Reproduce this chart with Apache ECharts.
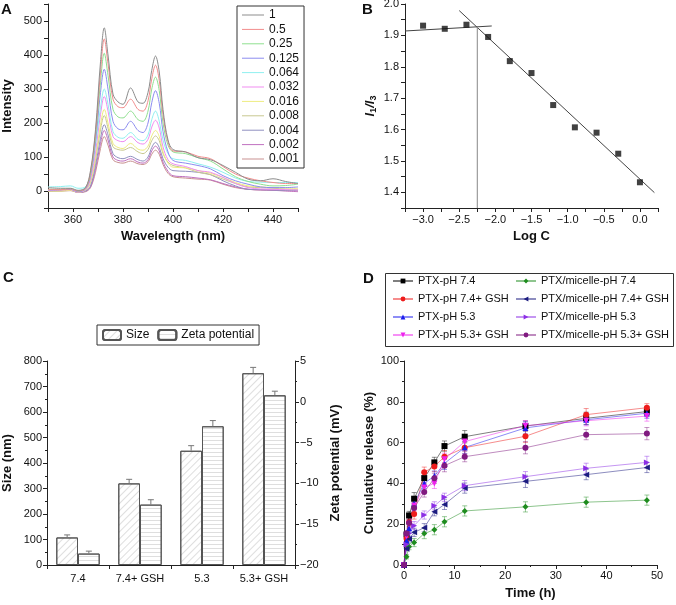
<!DOCTYPE html>
<html>
<head>
<meta charset="utf-8">
<script src="https://cdn.jsdelivr.net/npm/echarts@6/dist/echarts.min.js"></script>
<style>
  html, body { margin: 0; padding: 0; background: #fff; }
  #main { width: 676px; height: 605px; }
</style>
</head>
<body>
<div id="main"></div>
<script>
// ---- panel A: fluorescence spectra ----
var wavelength = [350, 355, 359, 362, 365, 367, 369, 371, 372.5, 374, 376, 378, 380, 383, 386, 388, 390, 391.5, 393, 394.5, 396, 398, 400, 405, 410, 415, 420, 425, 430, 435, 440, 445, 450];
var concLabels = ['1', '0.5', '0.25', '0.125', '0.064', '0.032', '0.016', '0.008', '0.004', '0.002', '0.001'];
var int_1     = [10, 8, 8, 2, 10, 60, 180, 380, 480, 400, 285, 262, 255, 303, 262, 258, 290, 355, 397, 350, 240, 150, 122, 115, 98, 92, 75, 55, 35, 30, 36, 28, 22];
var int_0_5   = [5, 4, 6, 0, 8, 55, 170, 350, 447, 375, 270, 248, 245, 270, 240, 235, 265, 330, 370, 325, 225, 145, 118, 115, 102, 95, 72, 50, 38, 30, 25, 22, 22];
var int_0_25  = [5, 5, 7, 0, 8, 50, 160, 320, 405, 340, 240, 218, 215, 235, 210, 205, 235, 300, 335, 295, 200, 135, 115, 110, 98, 88, 65, 42, 28, 20, 15, 16, 20];
var int_0_125 = [3, 4, 5, -2, 6, 45, 145, 290, 358, 300, 205, 183, 180, 205, 178, 172, 200, 260, 295, 258, 175, 115, 90, 82, 75, 65, 45, 30, 20, 12, 10, 10, 12];
var int_0_064 = [12, 13, 15, 8, 12, 48, 135, 245, 300, 255, 175, 158, 155, 172, 152, 148, 165, 210, 235, 205, 150, 110, 95, 90, 80, 70, 55, 38, 28, 26, 25, 25, 25];
var int_0_032 = [2, 3, 4, -3, 4, 35, 115, 225, 278, 235, 160, 148, 145, 160, 142, 138, 152, 188, 208, 185, 130, 92, 80, 72, 60, 55, 40, 22, 10, 6, 5, 4, 3];
var int_0_016 = [0, 0, 2, -3, 3, 30, 100, 195, 240, 200, 140, 128, 125, 140, 123, 120, 132, 162, 178, 160, 115, 82, 70, 68, 60, 52, 40, 25, 15, 12, 10, 9, 8];
var int_0_008 = [0, 0, 2, -3, 2, 25, 90, 180, 222, 185, 130, 122, 120, 128, 115, 110, 122, 148, 162, 148, 110, 85, 75, 68, 55, 48, 35, 22, 12, 10, 8, 6, 5];
var int_0_004 = [0, 1, 2, -3, 0, 15, 75, 155, 195, 165, 110, 98, 95, 102, 92, 88, 100, 128, 143, 128, 95, 70, 60, 58, 55, 48, 30, 15, 5, 4, 3, 2, 2];
var int_0_002 = [0, 1, 2, -4, -1, 12, 65, 140, 178, 150, 100, 90, 88, 95, 85, 82, 92, 118, 132, 118, 85, 58, 45, 42, 38, 33, 22, 12, 5, 3, 2, 0, -2];
var int_0_001 = [0, 0, 1, -4, -2, 10, 55, 125, 160, 135, 92, 84, 82, 88, 80, 78, 86, 108, 120, 108, 78, 52, 42, 38, 35, 32, 20, 10, 5, 3, 2, 1, 0];
var spectra = [int_1, int_0_5, int_0_25, int_0_125, int_0_064, int_0_032, int_0_016, int_0_008, int_0_004, int_0_002, int_0_001];
var specColors = ['#8c8c8c', '#f28c8c', '#8fe08f', '#8c8cf0', '#8ff0f0', '#f08cf0', '#eeec80', '#c8c890', '#9090c0', '#c070c0', '#c89090'];

// ---- panel B: I1/I3 vs log C ----
var logC = [-3.0, -2.7, -2.4, -2.1, -1.8, -1.5, -1.2, -0.9, -0.6, -0.3, 0.0];
var ratioI1I3 = [1.931, 1.921, 1.934, 1.895, 1.818, 1.780, 1.678, 1.607, 1.590, 1.523, 1.432];
var flatFitX = [-3.25, -2.05];
var flatFitY = [1.914, 1.930];
var slopeFitX = [-2.50, 0.20];
var slopeFitY = [1.979, 1.399];
var cmcX = [-2.25, -2.25];
var cmcY = [1.35, 1.927];

// ---- panel C: size and zeta potential ----
var phGroups = ['7.4', '7.4+ GSH', '5.3', '5.3+ GSH'];
var sizeNm = [108, 320, 448, 752];
var sizeErr = [10, 16, 20, 23];
var zetaMv = [-18.6, -12.6, -3.0, 0.8];
var zetaErr = [0.3, 0.6, 0.7, 0.5];
var zetaMin = -20;

// ---- panel D: cumulative release ----
var timeH = [0, 0.5, 1, 2, 4, 6, 8, 12, 24, 36, 48];
var rel_ptx74       = [0, 15, 24.3, 32.5, 42.6, 50.3, 58.3, 62.9, 68.1, 71.9, 75.2];
var rel_ptx74gsh    = [0, 13, 21, 25, 45.5, 48.3, 53.1, 57.5, 63.1, 73.7, 77.1];
var rel_ptx53       = [0, 12, 18, 30, 40, 43.6, 49.8, 57.6, 67.2, 71.2, 74.4];
var rel_ptx53gsh    = [0, 14, 20, 29, 38, 40, 51.8, 60.5, 68.3, 70.7, 73.0];
var rel_mic74       = [0, 4, 9, 11, 15.4, 17.3, 21.2, 26.5, 28.5, 30.8, 31.8];
var rel_mic74gsh    = [0, 8, 12.7, 16, 18.3, 26.1, 29.7, 37.7, 41, 44.3, 47.8];
var rel_mic53       = [0, 10, 15.4, 19.3, 24.5, 29, 33.2, 38.9, 43.3, 47.4, 50.3];
var rel_mic53gsh    = [0, 15.4, 20.6, 28, 35.8, 42.5, 48.7, 53.1, 57.5, 63.9, 64.4];
var err_ptx74       = [0, 1.5, 2, 3, 2.5, 2.5, 2.5, 3, 2.5, 3, 2.5];
var err_ptx74gsh    = [0, 1.5, 2, 2.5, 2.5, 2.5, 3, 3, 3, 3, 2];
var err_ptx53       = [0, 1.5, 2, 2.5, 2.5, 2.5, 3, 3, 3, 2.5, 2.5];
var err_ptx53gsh    = [0, 1.5, 2, 2.5, 2.5, 2.5, 3, 3, 2.5, 2.5, 2.5];
var err_mic74       = [0, 1, 1.5, 2, 2.5, 2.5, 2.5, 2.5, 2.5, 2.5, 2.5];
var err_mic74gsh    = [0, 1, 1.5, 2, 2, 2, 2.5, 2.5, 3, 2.5, 2.5];
var err_mic53       = [0, 1, 1.5, 2, 2, 2, 2, 2.5, 2.5, 2.5, 3];
var err_mic53gsh    = [0, 1.5, 2, 2.5, 2.5, 2.5, 3, 2.5, 3, 2.5, 3];
var releaseNames = ['PTX-pH 7.4', 'PTX-pH 7.4+ GSH', 'PTX-pH 5.3', 'PTX-pH 5.3+ GSH',
    'PTX/micelle-pH 7.4', 'PTX/micelle-pH 7.4+ GSH', 'PTX/micelle-pH 5.3', 'PTX/micelle-pH 5.3+ GSH'];
var releaseData = [rel_ptx74, rel_ptx74gsh, rel_ptx53, rel_ptx53gsh, rel_mic74, rel_mic74gsh, rel_mic53, rel_mic53gsh];
var releaseErr = [err_ptx74, err_ptx74gsh, err_ptx53, err_ptx53gsh, err_mic74, err_mic74gsh, err_mic53, err_mic53gsh];
var releaseColors = ['#000000', '#ee1c1c', '#1c1cee', '#ee22ee', '#1e8c1e', '#1c1c80', '#8c2ee6', '#801a80'];
var releaseSymbols = ['rect', 'circle', 'triangle', 'triangle', 'diamond', 'triangle', 'triangle', 'circle'];
var releaseRotate = [0, 0, 0, 180, 0, 90, -90, 0];

var FONT = 'Liberation Sans';

function baseAxis(extra) {
    var a = {
        axisLine: { show: true, onZero: false, lineStyle: { color: '#222', width: 1 } },
        axisTick: { show: true, length: 4, lineStyle: { color: '#222' } },
        axisLabel: { color: '#111', fontSize: 11, fontFamily: FONT, margin: 5 },
        splitLine: { show: false },
        nameTextStyle: { color: '#111', fontSize: 13, fontWeight: 'bold', fontFamily: FONT },
        nameLocation: 'middle'
    };
    for (var k in extra) a[k] = extra[k];
    return a;
}

function minus(s) { return String(s).replace('-', '\u2212'); }

var series = [];

// A
spectra.forEach(function (vals, i) {
    series.push({
        name: concLabels[i],
        type: 'line',
        xAxisIndex: 0, yAxisIndex: 0,
        data: wavelength.map(function (w, j) { return [w, vals[j]]; }),
        smooth: 0.35,
        symbol: 'none',
        lineStyle: { color: specColors[i], width: 1 },
        itemStyle: { color: specColors[i] },
        z: 20 - i
    });
});

// B
series.push({
    type: 'scatter', xAxisIndex: 1, yAxisIndex: 1,
    data: logC.map(function (x, j) { return [x, ratioI1I3[j]]; }),
    symbol: 'rect', symbolSize: 6, itemStyle: { color: '#111' }, z: 5
});
[[flatFitX, flatFitY, '#444'], [slopeFitX, slopeFitY, '#444'], [cmcX, cmcY, '#888']].forEach(function (l) {
    series.push({
        type: 'line', xAxisIndex: 1, yAxisIndex: 1,
        data: l[0].map(function (x, j) { return [x, l[1][j]]; }),
        symbol: 'none', lineStyle: { color: l[2], width: 1 }, z: 3
    });
});

// C
series.push({
    name: 'Size', type: 'bar', xAxisIndex: 2, yAxisIndex: 2,
    data: sizeNm, barGap: '0%', barCategoryGap: '30%',
    itemStyle: {
        color: '#fff', borderColor: '#555', borderWidth: 1,
        decal: { color: 'rgba(0,0,0,0.13)', dashArrayX: [1, 0], dashArrayY: [1, 4], symbolSize: 1, rotation: -Math.PI / 4 }
    }
});
series.push({
    name: 'Zeta potential', type: 'bar', xAxisIndex: 2, yAxisIndex: 4,
    data: zetaMv.map(function (v) { return v - zetaMin; }),
    itemStyle: {
        color: '#fff', borderColor: '#555', borderWidth: 1,
        decal: { color: 'rgba(0,0,0,0.13)', dashArrayX: [1, 0], dashArrayY: [1, 3], symbolSize: 1, rotation: 0 }
    }
});
function barErr(side) {
    return function (params, api) {
        var idx = api.value(0), y = api.value(1), e = api.value(2);
        var band = api.size([1, 0])[0];
        var off = side * band * 0.175;
        var p0 = api.coord([idx, y]);
        var p1 = api.coord([idx, y + e]);
        var x = p0[0] + off;
        return {
            type: 'group', children: [
                { type: 'line', shape: { x1: x, y1: p0[1], x2: x, y2: p1[1] }, style: { stroke: '#777', lineWidth: 1 } },
                { type: 'line', shape: { x1: x - 3, y1: p1[1], x2: x + 3, y2: p1[1] }, style: { stroke: '#777', lineWidth: 1 } }
            ]
        };
    };
}
series.push({
    type: 'custom', xAxisIndex: 2, yAxisIndex: 2, z: 10,
    data: sizeNm.map(function (v, j) { return [j, v, sizeErr[j]]; }),
    encode: { x: 0, y: 1 },
    renderItem: barErr(-1)
});
series.push({
    type: 'custom', xAxisIndex: 2, yAxisIndex: 4, z: 10,
    data: zetaMv.map(function (v, j) { return [j, v - zetaMin, zetaErr[j]]; }),
    encode: { x: 0, y: 1 },
    renderItem: barErr(1)
});

// D
releaseData.forEach(function (vals, i) {
    var c = releaseColors[i];
    series.push({
        name: releaseNames[i], type: 'line', xAxisIndex: 3, yAxisIndex: 5,
        data: timeH.map(function (t, j) { return [t, vals[j]]; }),
        symbol: releaseSymbols[i], symbolRotate: releaseRotate[i], symbolSize: 6,
        itemStyle: { color: c },
        lineStyle: { color: c, width: 1, opacity: 0.5 },
        z: 6
    });
    var errs = releaseErr[i];
    series.push({
        type: 'custom', xAxisIndex: 3, yAxisIndex: 5, z: 4,
        data: timeH.map(function (t, j) { return [t, vals[j], errs[j]]; }),
        encode: { x: 0, y: 1 },
        renderItem: function (params, api) {
            var x = api.value(0), y = api.value(1), e = api.value(2);
            if (!e) return null;
            var p1 = api.coord([x, y + e]);
            var p2 = api.coord([x, y - e]);
            var st = { stroke: c, lineWidth: 1, opacity: 0.45 };
            return {
                type: 'group', children: [
                    { type: 'line', shape: { x1: p1[0], y1: p1[1], x2: p2[0], y2: p2[1] }, style: st },
                    { type: 'line', shape: { x1: p1[0] - 2.5, y1: p1[1], x2: p1[0] + 2.5, y2: p1[1] }, style: st },
                    { type: 'line', shape: { x1: p2[0] - 2.5, y1: p2[1], x2: p2[0] + 2.5, y2: p2[1] }, style: st }
                ]
            };
        }
    });
});

var option = {
    animation: false,
    backgroundColor: '#fff',
    textStyle: { fontFamily: FONT },
    grid: [
        { left: 48, top: 4, width: 250, height: 204, outerBoundsMode: 'none' },
        { left: 405, top: 4, width: 253, height: 204, outerBoundsMode: 'none' },
        { left: 47, top: 361, width: 248, height: 204, outerBoundsMode: 'none' },
        { left: 404, top: 361, width: 253, height: 204, outerBoundsMode: 'none' }
    ],
    xAxis: [
        baseAxis({
            gridIndex: 0, type: 'value', min: 350, max: 450, interval: 10,
            name: 'Wavelength (nm)', nameGap: 22,
            axisLabel: { color: '#111', fontSize: 11, fontFamily: FONT, margin: 6,
                formatter: function (v) { return (v % 20 === 0 && v > 350 && v < 450) ? v : ''; } }
        }),
        baseAxis({
            gridIndex: 1, type: 'value', min: -3.25, max: 0.25, interval: 0.25,
            name: 'Log C', nameGap: 22,
            axisLabel: { color: '#111', fontSize: 11, fontFamily: FONT, margin: 6,
                formatter: function (v) {
                    var r = Math.round(v * 100);
                    return (r % 50 === 0 && r >= -300 && r <= 0) ? minus((r / 100).toFixed(1)) : '';
                } }
        }),
        baseAxis({
            gridIndex: 2, type: 'category', data: phGroups,
            axisTick: { show: true, length: 4, alignWithLabel: false, lineStyle: { color: '#222' } },
            axisLabel: { color: '#111', fontSize: 11, fontFamily: FONT, margin: 8, interval: 0 }
        }),
        baseAxis({
            gridIndex: 3, type: 'value', min: 0, max: 50, interval: 10,
            name: 'Time (h)', nameGap: 22,
            minorTick: { show: true, splitNumber: 2, length: 2, lineStyle: { color: '#222' } }
        })
    ],
    yAxis: [
        baseAxis({
            gridIndex: 0, type: 'value', min: -50, max: 550, interval: 50,
            name: 'Intensity', nameGap: 34,
            axisLabel: { color: '#111', fontSize: 11, fontFamily: FONT, margin: 6,
                formatter: function (v) { return (v % 100 === 0 && v >= 0 && v <= 500) ? v : ''; } }
        }),
        baseAxis({
            gridIndex: 1, type: 'value', min: 1.35, max: 2.0, interval: 0.05,
            name: '{i|I}{s|1}{i|/I}{s|3}', nameGap: 27,
            nameTextStyle: {
                color: '#111', fontFamily: FONT,
                rich: {
                    i: { fontSize: 13, fontWeight: 'bold', fontStyle: 'italic', fontFamily: FONT, lineHeight: 16 },
                    s: { fontSize: 9, fontWeight: 'bold', fontFamily: FONT, verticalAlign: 'bottom', lineHeight: 10 }
                }
            },
            axisLabel: { color: '#111', fontSize: 11, fontFamily: FONT, margin: 6,
                formatter: function (v) {
                    var r = Math.round(v * 100);
                    return (r % 10 === 0) ? (r / 100).toFixed(1) : '';
                } }
        }),
        baseAxis({
            gridIndex: 2, type: 'value', min: 0, max: 800, interval: 100,
            name: 'Size (nm)', nameGap: 33,
            minorTick: { show: true, splitNumber: 2, length: 2, lineStyle: { color: '#222' } }
        }),
        baseAxis({
            gridIndex: 2, type: 'value', position: 'right', min: -20, max: 5, interval: 5,
            name: 'Zeta potential (mV)', nameGap: 34, nameRotate: 90,
            minorTick: { show: true, splitNumber: 2, length: 2, lineStyle: { color: '#222' } },
            axisLabel: { color: '#111', fontSize: 11, fontFamily: FONT, margin: 5,
                formatter: function (v) { return minus(v); } }
        }),
        { gridIndex: 2, type: 'value', min: 0, max: 25, show: false },
        baseAxis({
            gridIndex: 3, type: 'value', min: 0, max: 100, interval: 20,
            name: 'Cumulative release (%)', nameGap: 28,
            minorTick: { show: true, splitNumber: 2, length: 2, lineStyle: { color: '#222' } }
        })
    ],
    legend: [
        {
            data: concLabels, orient: 'vertical', left: 237, top: 6,
            icon: 'rect', itemWidth: 22, itemHeight: 1, itemGap: 2.4,
            padding: [3, 5, 3, 5],
            borderColor: '#333', borderWidth: 1,
            textStyle: { color: '#111', fontSize: 12, fontFamily: FONT, lineHeight: 12 }
        },
        {
            data: ['Size', 'Zeta potential'], left: 97, top: 325,
            itemWidth: 18, itemHeight: 10, itemGap: 8,
            padding: [4, 5, 4, 5],
            borderColor: '#333', borderWidth: 1,
            textStyle: { color: '#111', fontSize: 12, fontFamily: FONT }
        },
        {
            data: releaseNames.slice(0, 4), orient: 'vertical', left: 392, top: 274,
            itemWidth: 20, itemHeight: 6, itemGap: 4,
            padding: 0,
            textStyle: { color: '#111', fontSize: 11, fontFamily: FONT, lineHeight: 14 }
        },
        {
            data: releaseNames.slice(4), orient: 'vertical', left: 515, top: 274,
            itemWidth: 20, itemHeight: 6, itemGap: 4,
            padding: 0,
            textStyle: { color: '#111', fontSize: 11, fontFamily: FONT, lineHeight: 14 }
        }
    ],
    graphic: [
        { type: 'text', left: 1, top: 2, style: { text: 'A', font: 'bold 15px Liberation Sans', fill: '#111' } },
        { type: 'text', left: 362, top: 2, style: { text: 'B', font: 'bold 15px Liberation Sans', fill: '#111' } },
        { type: 'text', left: 3, top: 270, style: { text: 'C', font: 'bold 15px Liberation Sans', fill: '#111' } },
        { type: 'text', left: 363, top: 271, style: { text: 'D', font: 'bold 15px Liberation Sans', fill: '#111' } },
        { type: 'rect', left: 383, top: 271, shape: { width: 288, height: 73 }, style: { fill: 'none', stroke: '#333', lineWidth: 1 } }
    ],
    series: series
};

var myChart = echarts.init(document.getElementById('main'));
myChart.setOption(option);
</script>
</body>
</html>
